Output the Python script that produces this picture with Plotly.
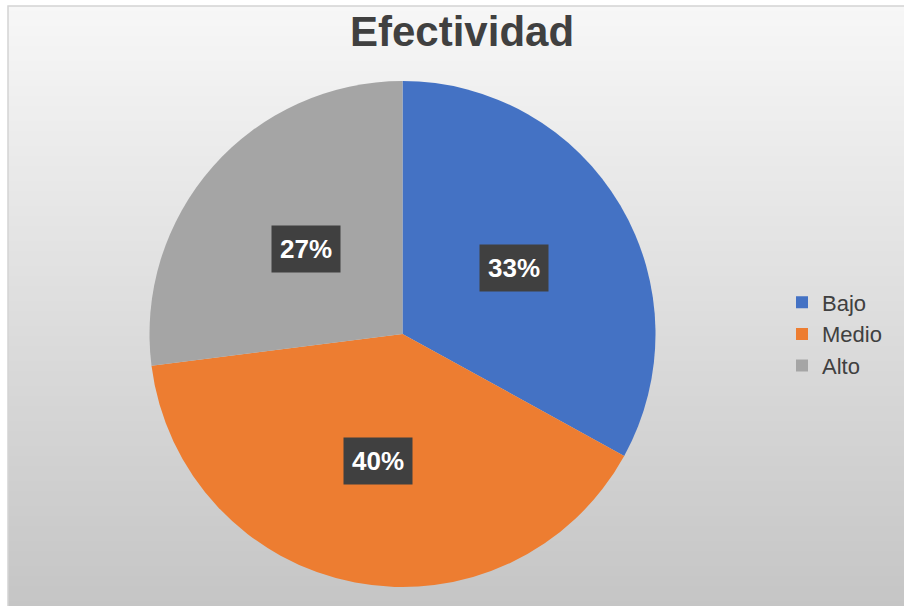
import math
import plotly.graph_objects as go

# Data
categories = ["Bajo", "Medio", "Alto"]
values = [33, 40, 27]
colors = ["#4472C4", "#ED7D31", "#A5A5A5"]
title_text = "Efectividad"

W, H = 904, 606
# pie geometry (pixels)
cx_px, cy_px, r_px = 402.5, 334, 253

fig = go.Figure()
fig.add_trace(go.Pie(
    labels=categories, values=values, sort=False, direction="clockwise", rotation=0,
    marker=dict(colors=colors, line=dict(width=0)),
    textinfo="none", hoverinfo="label+percent",
    domain=dict(x=[(cx_px - r_px) / W, (cx_px + r_px) / W],
                y=[1 - (cy_px + r_px) / H, 1 - (cy_px - r_px) / H]),
))

# gradient background bands
shapes = []
top_c, bot_c = (247, 247, 247), (197, 197, 197)
x0, y_top, y_bot = 8 / W, 1 - 6 / H, 0.0
n = 120
for i in range(n):
    t = (i + 0.5) / n
    c = tuple(round(top_c[k] + (bot_c[k] - top_c[k]) * t) for k in range(3))
    ya = y_top - (y_top - y_bot) * i / n
    yb = y_top - (y_top - y_bot) * (i + 1) / n
    shapes.append(dict(type="rect", xref="paper", yref="paper", x0=x0, x1=1,
                       y0=yb - 0.001, y1=ya, fillcolor="rgb(%d,%d,%d)" % c,
                       line=dict(width=0), layer="below"))
shapes.append(dict(type="rect", xref="paper", yref="paper", x0=x0, x1=1.01,
                   y0=-0.01, y1=y_top, line=dict(color="#d4d4d4", width=1.5),
                   fillcolor="rgba(0,0,0,0)", layer="below"))

# percentage labels in dark boxes, placed from data
annotations = []
total = sum(values)
cum = 0
for v in values:
    mid = (cum + v / 2) / total * 2 * math.pi
    cum += v
    px = cx_px + 0.51 * r_px * math.sin(mid)
    py = cy_px - 0.51 * r_px * math.cos(mid)
    annotations.append(dict(x=px / W, y=1 - py / H, xref="paper", yref="paper",
                            text="<b>%d%%</b>" % round(v / total * 100), showarrow=False,
                            font=dict(family="Liberation Sans, Arial", size=26, color="white"),
                            bgcolor="#404040", borderpad=8, xanchor="center", yanchor="middle"))

annotations.append(dict(x=462 / W, y=1 - 32 / H, xref="paper", yref="paper",
                        text="<b>" + title_text + "</b>", showarrow=False,
                        font=dict(family="Liberation Sans, Arial", size=42, color="#404040"),
                        xanchor="center", yanchor="middle"))

fig.update_layout(
    width=W, height=H, margin=dict(l=0, r=0, t=0, b=0),
    paper_bgcolor="white", plot_bgcolor="rgba(0,0,0,0)",
    shapes=shapes, annotations=annotations,
    showlegend=True,
    legend=dict(x=782 / W, y=1 - 334 / H, xanchor="left", yanchor="middle",
                font=dict(family="Liberation Sans, Arial", size=22, color="#404040"),
                bgcolor="rgba(0,0,0,0)", itemclick=False),
)

fig.write_html("out.html", config={"displayModeBar": False},
               post_script="document.body.style.margin='0';document.body.style.overflow='hidden';")
